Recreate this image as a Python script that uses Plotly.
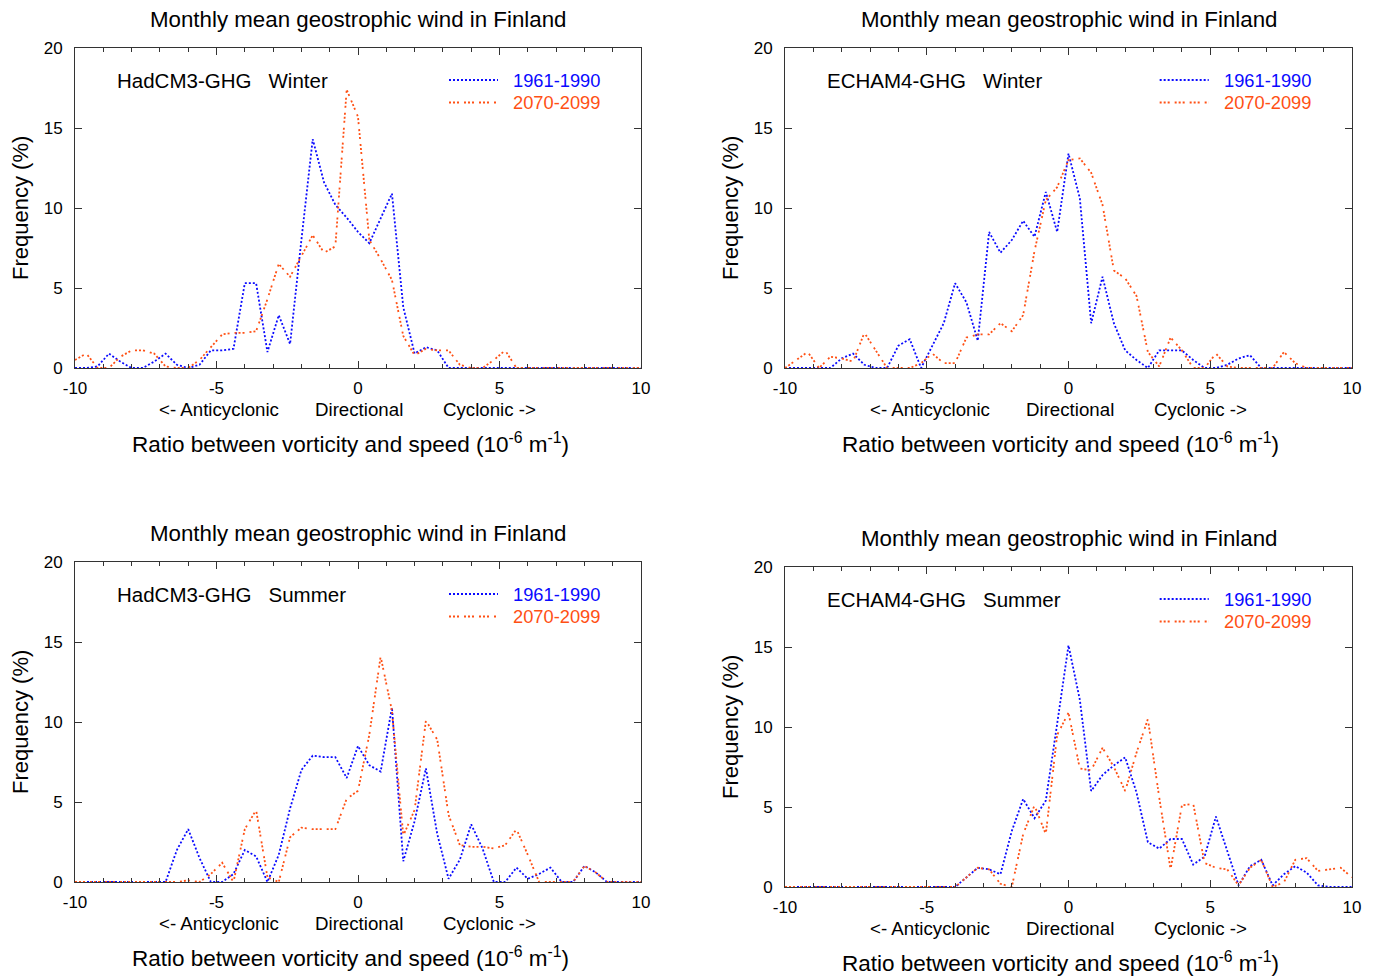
import plotly.graph_objects as go

# ---------------- data ----------------
ratio_bins = [-10.0, -9.6, -9.2, -8.8, -8.4, -8.0, -7.6, -7.2, -6.8, -6.4,
              -6.0, -5.6, -5.2, -4.8, -4.4, -4.0, -3.6, -3.2, -2.8, -2.4,
              -2.0, -1.6, -1.2, -0.8, -0.4, 0.0, 0.4, 0.8, 1.2, 1.6,
              2.0, 2.4, 2.8, 3.2, 3.6, 4.0, 4.4, 4.8, 5.2, 5.6,
              6.0, 6.4, 6.8, 7.2, 7.6, 8.0, 8.4, 8.8, 9.2, 9.6, 10.0]

period_names = ["1961-1990", "2070-2099"]

hadcm3_winter_1961 = [0, 0, 0.1, 0.9, 0.4, 0, 0, 0.4, 0.9, 0.2,
                      0, 0.2, 1.1, 1.1, 1.2, 5.3, 5.3, 1.0, 3.3, 1.5,
                      8.0, 14.3, 11.6, 10.2, 9.4, 8.5, 7.8, 9.3, 10.9, 3.8,
                      0.9, 1.3, 1.1, 0, 0, 0, 0, 0, 0, 0,
                      0, 0, 0, 0, 0, 0, 0, 0, 0, 0, 0]
hadcm3_winter_2070 = [0.5, 0.9, 0, 0, 0.7, 1.1, 1.1, 0.9, 0.1, 0,
                      0, 0.5, 1.3, 2.1, 2.2, 2.2, 2.3, 4.3, 6.5, 5.7,
                      7.0, 8.3, 7.2, 7.6, 17.4, 15.7, 8.0, 6.8, 5.5, 2.0,
                      0.8, 1.2, 1.1, 1.1, 0.2, 0, 0, 0.5, 1.1, 0,
                      0, 0, 0, 0, 0, 0, 0, 0, 0, 0, 0]

echam4_winter_1961 = [0, 0, 0, 0, 0, 0.6, 0.9, 0.2, 0, 0,
                      1.4, 1.8, 0, 1.4, 2.8, 5.3, 4.1, 1.7, 8.5, 7.2,
                      8.0, 9.2, 8.2, 11.0, 8.5, 13.4, 10.6, 2.8, 5.7, 2.8,
                      1.1, 0.5, 0, 1.1, 1.1, 1.1, 0.5, 0, 0, 0.2,
                      0.6, 0.8, 0, 0, 0, 0, 0, 0, 0, 0, 0]
echam4_winter_2070 = [0, 0.5, 1.0, 0, 0.7, 0.6, 0.4, 2.2, 1.1, 0,
                      0, 0, 0.3, 0.9, 0.3, 0.3, 1.9, 2.1, 2.1, 2.8,
                      2.3, 3.3, 7.3, 10.5, 11.3, 13.0, 13.1, 12.2, 10.2, 6.1,
                      5.6, 4.5, 1.0, 0.1, 1.9, 1.1, 0, 0, 0.9, 0.1,
                      0, 0, 0, 0, 1.0, 0.3, 0, 0, 0, 0, 0]

hadcm3_summer_1961 = [0, 0, 0, 0, 0, 0, 0, 0, 0, 2.0,
                      3.3, 1.5, 0, 0, 0.5, 2.0, 1.6, 0, 1.7, 4.6,
                      7.0, 7.9, 7.8, 7.8, 6.5, 8.5, 7.3, 6.9, 10.9, 1.3,
                      3.8, 7.1, 3.0, 0.2, 1.4, 3.6, 2.1, 0, 0, 0.9,
                      0.2, 0.5, 0.9, 0, 0, 1.0, 0.6, 0, 0, 0, 0]
hadcm3_summer_2070 = [0, 0, 0, 0, 0, 0, 0, 0, 0, 0,
                      0.1, 0, 0.5, 1.2, 0, 3.3, 4.5, 0.3, 0, 2.8,
                      3.4, 3.3, 3.3, 3.3, 5.2, 5.7, 9.2, 14.1, 10.7, 2.9,
                      4.5, 10.1, 8.9, 4.2, 2.3, 2.2, 2.2, 2.1, 2.3, 3.3,
                      1.7, 0, 0, 0, 0, 1.0, 0.6, 0, 0, 0, 0]

echam4_summer_1961 = [0, 0, 0, 0, 0, 0, 0, 0, 0, 0,
                      0, 0, 0, 0, 0, 0, 0.6, 1.2, 1.1, 0.8,
                      3.5, 5.5, 4.3, 5.4, 10.2, 15.1, 11.7, 6.0, 7.0, 7.6,
                      8.1, 5.9, 2.8, 2.4, 3.0, 3.0, 1.4, 1.9, 4.4, 2.2,
                      0.1, 1.3, 1.7, 0.1, 0.8, 1.3, 0.9, 0.1, 0, 0, 0]
echam4_summer_2070 = [0, 0, 0, 0, 0, 0, 0, 0, 0, 0,
                      0, 0, 0, 0, 0, 0, 0.6, 1.2, 1.1, 0.2,
                      0, 3.3, 5.1, 3.3, 9.5, 10.9, 7.4, 7.3, 8.7, 7.5,
                      6.0, 8.4, 10.5, 5.6, 1.1, 5.1, 5.2, 1.5, 1.2, 1.1,
                      0.1, 1.2, 1.7, 0, 0.3, 1.7, 1.8, 1.0, 1.1, 1.2, 0.6]

x_tick_vals = [-10, -5, 0, 5, 10]
x_tick_text = ["-10", "-5", "0", "5", "10"]
y_tick_vals = [0, 5, 10, 15, 20]
y_tick_text = ["0", "5", "10", "15", "20"]
direction_labels = ["<- Anticyclonic", "Directional", "Cyclonic ->"]
direction_pos = [-4.9, 0.05, 4.65]

panel_title = "Monthly mean geostrophic wind in Finland"
x_title = "Ratio between vorticity and speed (10<sup>-6</sup> m<sup>-1</sup>)"
y_title = "Frequency (%)"

panels = [
    ("HadCM3-GHG   Winter", hadcm3_winter_1961, hadcm3_winter_2070),
    ("ECHAM4-GHG   Winter", echam4_winter_1961, echam4_winter_2070),
    ("HadCM3-GHG   Summer", hadcm3_summer_1961, hadcm3_summer_2070),
    ("ECHAM4-GHG   Summer", echam4_summer_1961, echam4_summer_2070),
]

# ---------------- layout geometry (pixels) ----------------
W, H = 1380, 980
plot_boxes = [  # left, right, top, bottom
    (75, 641, 48, 368),
    (785, 1352, 48, 368),
    (75, 641, 562, 882),
    (785, 1352, 567, 887),
]

FONT = "Liberation Sans, Arial, Helvetica, sans-serif"
BLUE = "#0a0aff"
ORANGE = "#ff5014"
AXC = "#333333"
DASHES = ["2px,2px", "2px,2px,2px,2px,2px,5px"]
COLORS = [BLUE, ORANGE]

fig = go.Figure()
layout = dict(
    width=W, height=H, autosize=False,
    margin=dict(l=0, r=0, t=0, b=0, pad=0, autoexpand=False),
    paper_bgcolor="white", plot_bgcolor="white",
    showlegend=False,
    font=dict(family=FONT, color="black"),
)
annotations = []
shapes = []

for i, (label, s1, s2) in enumerate(panels):
    n = "" if i == 0 else str(i + 1)
    l, r, t, b = plot_boxes[i]
    h_px = b - t
    w_px = r - l
    xd = [l / W, r / W]
    yd = [1 - b / H, 1 - t / H]
    layout["xaxis" + n] = dict(
        domain=xd, anchor="y" + n, range=[-10, 10], automargin=False,
        tickmode="array", tickvals=x_tick_vals, ticktext=x_tick_text,
        ticks="inside", ticklen=7, tickwidth=1, tickcolor=AXC,
        showline=True, linecolor=AXC, linewidth=1, mirror="allticks",
        showgrid=False, zeroline=False,
        minor=dict(dtick=1, tick0=0, ticks="inside", ticklen=4,
                   tickcolor=AXC, tickwidth=1, showgrid=False),
        tickfont=dict(size=17, family=FONT, color="black"),
        ticklabelstandoff=5,
    )
    layout["yaxis" + n] = dict(
        domain=yd, anchor="x" + n, range=[0, 20], automargin=False,
        tickmode="array", tickvals=y_tick_vals, ticktext=y_tick_text,
        ticks="inside", ticklen=7, tickwidth=1, tickcolor=AXC,
        showline=True, linecolor=AXC, linewidth=1, mirror="allticks",
        showgrid=False, zeroline=False,
        tickfont=dict(size=17, family=FONT, color="black"),
        ticklabelstandoff=8,
    )
    for j, series in enumerate([s1, s2]):
        fig.add_trace(go.Scatter(
            x=ratio_bins, y=series, mode="lines",
            name=period_names[j],
            line=dict(color=COLORS[j], width=1.8, dash=DASHES[j]),
            xaxis="x" + n, yaxis="y" + n,
        ))
    xdom = "x" + n + " domain"
    ydom = "y" + n + " domain"
    # panel title
    annotations.append(dict(text=panel_title, xref=xdom, yref=ydom,
                            x=0.5, y=1 + 28.5 / h_px, xanchor="center", yanchor="middle",
                            showarrow=False, font=dict(size=22.3, family=FONT, color="black")))
    # model / season label
    annotations.append(dict(text=label, xref=xdom, yref=ydom,
                            x=(115 - 75) / 566, y=(368 - 80) / 320,
                            xanchor="left", yanchor="middle",
                            showarrow=False, font=dict(size=20.5, family=FONT, color="black")))
    # legend
    for j in range(2):
        ly = (368 - (80 + 22.5 * j)) / 320
        shapes.append(dict(type="line", xref=xdom, yref=ydom,
                           x0=(449 - 75) / 566, x1=(498 - 75) / 566, y0=ly, y1=ly,
                           line=dict(color=COLORS[j], width=1.8, dash=DASHES[j])))
        annotations.append(dict(text=period_names[j], xref=xdom, yref=ydom,
                                x=(511 - 75) / 566, y=ly, xanchor="left", yanchor="middle",
                                showarrow=False, font=dict(size=18.3, family=FONT, color=COLORS[j])))
    # direction labels
    for txt, pos in zip(direction_labels, direction_pos):
        annotations.append(dict(text=txt, xref="x" + n, yref=ydom,
                                x=pos, y=-41 / h_px, xanchor="center", yanchor="middle",
                                showarrow=False, font=dict(size=18.7, family=FONT, color="black")))
    # x title
    annotations.append(dict(text=x_title, xref=xdom, yref=ydom,
                            x=0.5 - 8 / w_px, y=-75 / h_px, xanchor="center", yanchor="middle",
                            showarrow=False, font=dict(size=22.5, family=FONT, color="black")))
    # y title
    annotations.append(dict(text=y_title, xref=xdom, yref=ydom,
                            x=-55 / w_px, y=0.5, xanchor="center", yanchor="middle",
                            textangle=-90,
                            showarrow=False, font=dict(size=22, family=FONT, color="black")))

layout["annotations"] = annotations
layout["shapes"] = shapes
fig.update_layout(**layout)
fig.write_html("out.html", config={"displayModeBar": False},
               post_script="document.body.style.margin='0px';document.body.style.padding='0px';")
